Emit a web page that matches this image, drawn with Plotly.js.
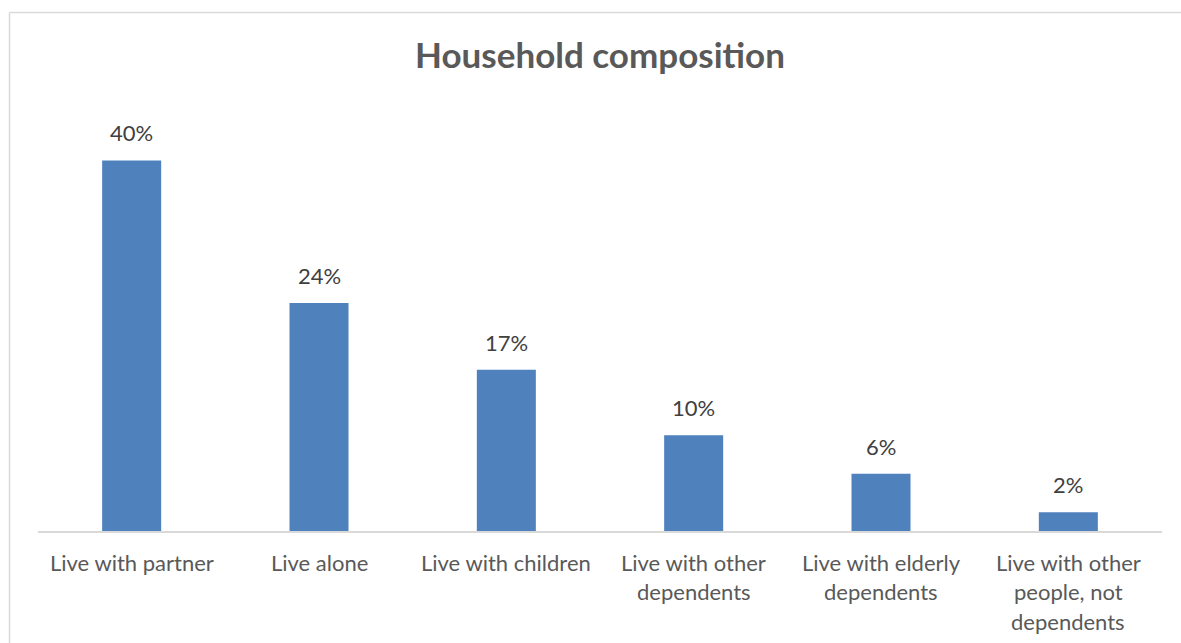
<!DOCTYPE html>
<html>
<head>
<meta charset="utf-8">
<script src="https://cdn.plot.ly/plotly-3.0.1.min.js"></script>
<style>
  html, body { margin: 0; padding: 0; background: #ffffff; }
  #chart { width: 1181px; height: 643px; }
</style>
</head>
<body>
<div id="chart"></div>
<script>
const categories = [
  "Live with partner",
  "Live alone",
  "Live with children",
  "Live with other<br>dependents",
  "Live with elderly<br>dependents",
  "Live with other<br>people, not<br>dependents"
];
const values = [39.5, 24.3, 17.2, 10.2, 6.1, 2.0];
const valueLabels = ["40%", "24%", "17%", "10%", "6%", "2%"];
const chartTitle = "Household composition";

const FONT = "Lato, 'Noto Sans', sans-serif";
const W = 1181, H = 643;
const L = 38, R = 19, T = 100, B = 112;
const plotW = W - L - R, plotH = H - T - B;
const pxPerUnit = 9.38;
const yMax = plotH / pxPerUnit;

const annotations = [];
values.forEach((v, i) => {
  annotations.push({
    x: categories[i], y: v, xref: 'x', yref: 'y',
    text: valueLabels[i], showarrow: false,
    yanchor: 'bottom', yshift: 12,
    font: { family: FONT, size: 22, color: '#404040' }
  });
});
categories.forEach((c, i) => {
  c.split('<br>').forEach((line, j) => {
    annotations.push({
      x: c, y: 0, xref: 'x', yref: 'y',
      text: line, showarrow: false,
      yanchor: 'middle', yshift: -(31 + j * 29.5),
      font: { family: FONT, size: 22, color: '#595959' }
    });
  });
});

const px2paperX = (px) => (px - L) / plotW;
const px2paperY = (py) => (H - B - py) / plotH;

const layout = {
  width: W, height: H,
  margin: { l: L, r: R, t: T, b: B, pad: 0 },
  paper_bgcolor: '#ffffff',
  plot_bgcolor: '#ffffff',
  showlegend: false,
  bargap: 0.685,
  title: {
    text: '<b>' + chartTitle + '</b>',
    font: { family: FONT, size: 35, color: '#595959' },
    x: 0.5, xanchor: 'center',
    y: 1 - 56 / H, yanchor: 'middle', xref: 'paper', yref: 'container'
  },
  xaxis: {
    type: 'category',
    showticklabels: false,
    showgrid: false, zeroline: false,
    showline: true, linecolor: '#D9D9D9', linewidth: 1.5,
    ticks: '', fixedrange: true
  },
  yaxis: {
    range: [0, yMax],
    visible: false, showgrid: false, zeroline: false, fixedrange: true
  },
  annotations: annotations,
  shapes: [
    { type: 'line', xref: 'paper', yref: 'paper',
      x0: px2paperX(9.5), x1: px2paperX(1190), y0: px2paperY(12.5), y1: px2paperY(12.5),
      line: { color: '#D9D9D9', width: 1.5 } },
    { type: 'line', xref: 'paper', yref: 'paper',
      x0: px2paperX(9.5), x1: px2paperX(9.5), y0: px2paperY(12.5), y1: px2paperY(660),
      line: { color: '#D9D9D9', width: 1.5 } }
  ]
};

const trace = {
  type: 'bar',
  x: categories,
  y: values,
  marker: { color: '#4F81BD' },
  hoverinfo: 'skip'
};

Plotly.newPlot('chart', [trace], layout, { displayModeBar: false, staticPlot: true });
</script>
</body>
</html>
